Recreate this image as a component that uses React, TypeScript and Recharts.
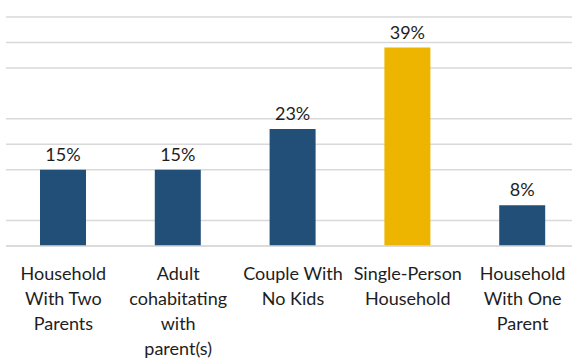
import React from "react";
import { BarChart, Bar, XAxis, YAxis, CartesianGrid, LabelList, Cell } from "recharts";

const categoryLines: string[][] = [
  ["Household", "With Two", "Parents"],
  ["Adult", "cohabitating", "with", "parent(s)"],
  ["Couple With", "No Kids"],
  ["Single-Person", "Household"],
  ["Household", "With One", "Parent"],
];
const categories = ["Household With Two Parents", "Adult cohabitating with parent(s)", "Couple With No Kids", "Single-Person Household", "Household With One Parent"];
const shares = [15, 15, 23, 39, 8];
const highlighted = "Single-Person Household";
const gridTicks = [0, 5, 15, 20, 25, 35, 40, 45];

const NAVY = "#214F78";
const GOLD = "#EDB400";
const FONT = "Lato, 'Open Sans', sans-serif";

const data = categories.map((c, i) => ({ name: c, lines: categoryLines[i], value: shares[i] }));

const CategoryTick = (props: any) => {
  const { x, y, index } = props;
  const lines = categoryLines[index] || [];
  return (
    <text x={x} y={y + 26} textAnchor="middle" fontFamily={FONT} fontSize={18} fill="#1e1e1e">
      {lines.map((l, i) => (
        <tspan key={i} x={x} dy={i === 0 ? 0 : 25}>{l}</tspan>
      ))}
    </text>
  );
};

export default function App() {
  return (
    <div style={{ position: "absolute", left: 0, top: 0, width: 572, height: 362, overflow: "hidden", background: "#fff" }}>
      <BarChart width={580} height={362} data={data} margin={{ top: 17, right: 0, bottom: 0, left: 6 }}>
        <CartesianGrid vertical={false} stroke="#D9D9D9" strokeWidth={1.5} />
        <YAxis
          width={0}
          domain={[0, 45]}
          ticks={gridTicks}
          interval={0}
          tick={{ fill: "transparent", fontSize: 1 }}
          axisLine={false}
          tickLine={false}
        />
        <XAxis
          dataKey="name"
          height={116}
          interval={0}
          tickLine={false}
          axisLine={{ stroke: "#D9D9D9", strokeWidth: 1.5 }}
          tick={<CategoryTick />}
        />
        <Bar dataKey="value" barSize={46} isAnimationActive={false}>
          {data.map((d, i) => (
            <Cell key={i} fill={d.name === highlighted ? GOLD : NAVY} />
          ))}
          <LabelList
            dataKey="value"
            position="top"
            offset={9}
            formatter={(v: any) => `${v}%`}
            style={{ fontFamily: FONT, fontSize: 18, fill: "#1e1e1e" }}
          />
        </Bar>
      </BarChart>
    </div>
  );
}
